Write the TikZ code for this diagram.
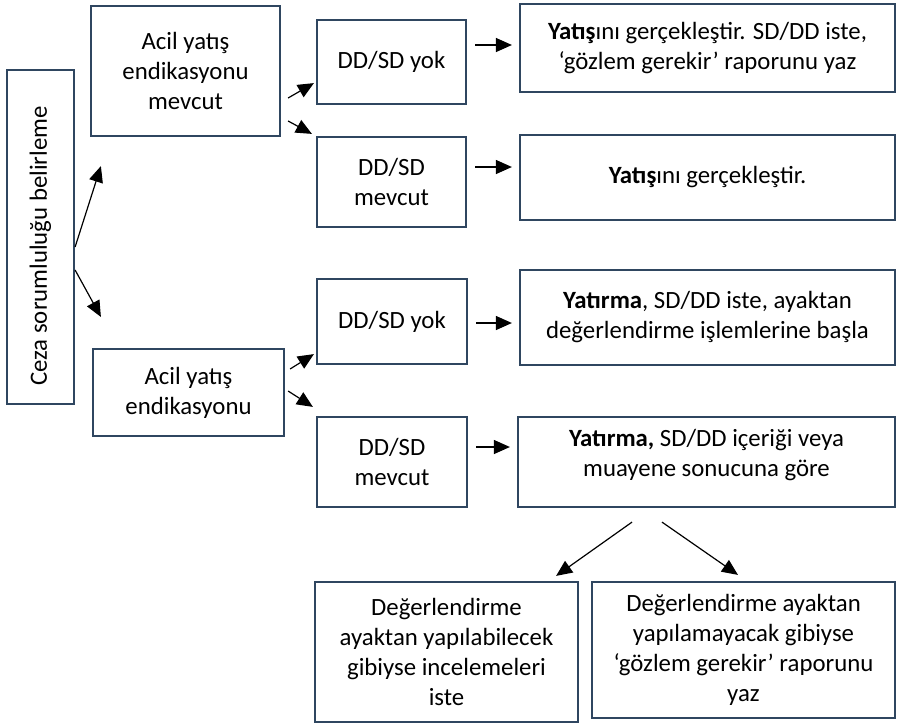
\documentclass[tikz,border=0pt]{standalone}
\usepackage{fontspec}
\setmainfont{Carlito}
\usepackage{tikz}
\usetikzlibrary{arrows.meta}
\definecolor{boxline}{HTML}{2F4660}

\begin{document}
\begin{tikzpicture}[x=0.5pt, y=-0.5pt, >={Triangle[length=8pt, width=7pt]},
  box/.style={draw=boxline, line width=1.1pt, align=center, inner sep=2pt, font=\fontsize{12.4pt}{15pt}\selectfont},
  arr/.style={->, line width=0.6pt, black}]
\useasboundingbox (0,0) rectangle (899,724);
% left column
\node[box, minimum width=33.5pt, minimum height=167pt] (ceza) at (40.5,237) {\rotatebox{90}{Ceza sorumluluğu belirleme\hspace{9pt}}};
\node[box, minimum width=94.5pt, minimum height=65pt] (a1) at (185.5,71) {Acil yatış\\endikasyonu\\mevcut};
\node[box, minimum width=95.5pt, minimum height=43.5pt] (a2) at (188.5,392.5) {Acil yatış\\endikasyonu};
% DD/SD boxes
\node[box, minimum width=74.5pt, minimum height=42pt] (d1) at (391.5,62) {DD/SD yok};
\node[box, minimum width=74.5pt, minimum height=45pt] (d2) at (391.5,182) {DD/SD\\mevcut};
\node[box, minimum width=75pt, minimum height=42.5pt] (d3) at (392,321.5) {DD/SD yok};
\node[box, minimum width=75pt, minimum height=45pt] (d4) at (392,462) {DD/SD\\mevcut};
% results
\node[box, minimum width=187.5pt, minimum height=44pt] (r1) at (707.5,48) {\textbf{Yatış}ını gerçekleştir. SD/DD iste,\\‘gözlem gerekir’ raporunu yaz};
\node[box, minimum width=187.5pt, minimum height=42.5pt] (r2) at (707.5,177.5) {\textbf{Yatış}ını gerçekleştir.};
\node[box, minimum width=187.5pt, minimum height=47.5pt] (r3) at (707.5,317.5) {\textbf{Yatırma}, SD/DD iste, ayaktan\\değerlendirme işlemlerine başla};
\node[box, minimum width=188.5pt, minimum height=45pt, text depth=9pt] (r4) at (706.5,462) {\textbf{Yatırma,} SD/DD içeriği veya\\muayene sonucuna göre};
% bottom
\node[box, minimum width=131.5pt, minimum height=70pt] (b1) at (446.5,652) {Değerlendirme\\ayaktan yapılabilecek\\gibiyse incelemeleri\\iste};
\node[box, minimum width=151.5pt, minimum height=68pt] (b2) at (743.5,650) {Değerlendirme ayaktan\\yapılamayacak gibiyse\\‘gözlem gerekir’ raporunu\\yaz};
% arrows
\draw[arr] ([yshift=-5pt]ceza.east) -- ([shift={(5.5pt,-14.5pt)}]a1.south west);
\draw[arr] ([yshift=-16.5pt]ceza.east) -- ([shift={(4.5pt,15.5pt)}]a2.north west);
\draw[arr] ([shift={(3.5pt,-13.5pt)}]a1.east) -- ([shift={(-1pt,11pt)}]d1.south west);
\draw[arr] ([shift={(3.5pt,-25pt)}]a1.east) -- ([shift={(-2pt,1pt)}]d2.north west);
\draw[arr] ([shift={(2.5pt,11.75pt)}]a2.east) -- ([shift={(-1pt,5.5pt)}]d3.south west);
\draw[arr] ([shift={(1.5pt,0.75pt)}]a2.east) -- ([shift={(-1.5pt,4.5pt)}]d4.north west);
\draw[arr] ([shift={(4pt,8.5pt)}]d1.east) -- ([shift={(-3.5pt,1.5pt)}]r1.west);
\draw[arr] ([shift={(4pt,7.5pt)}]d2.east) -- ([shift={(-3.5pt,5.25pt)}]r2.west);
\draw[arr] ([shift={(4pt,-0.75pt)}]d3.east) -- ([shift={(-3.5pt,-2.75pt)}]r3.west);
\draw[arr] ([shift={(4pt,7.5pt)}]d4.east) -- ([shift={(-3.5pt,7.5pt)}]r4.west);
\draw[arr] ([shift={(-37.25pt,-7pt)}]r4.south) -- ([shift={(-11.5pt,2.5pt)}]b1.north east);
\draw[arr] ([shift={(-22.25pt,-7pt)}]r4.south) -- ([shift={(-2.75pt,3pt)}]b2.north);
\end{tikzpicture}
\end{document}
